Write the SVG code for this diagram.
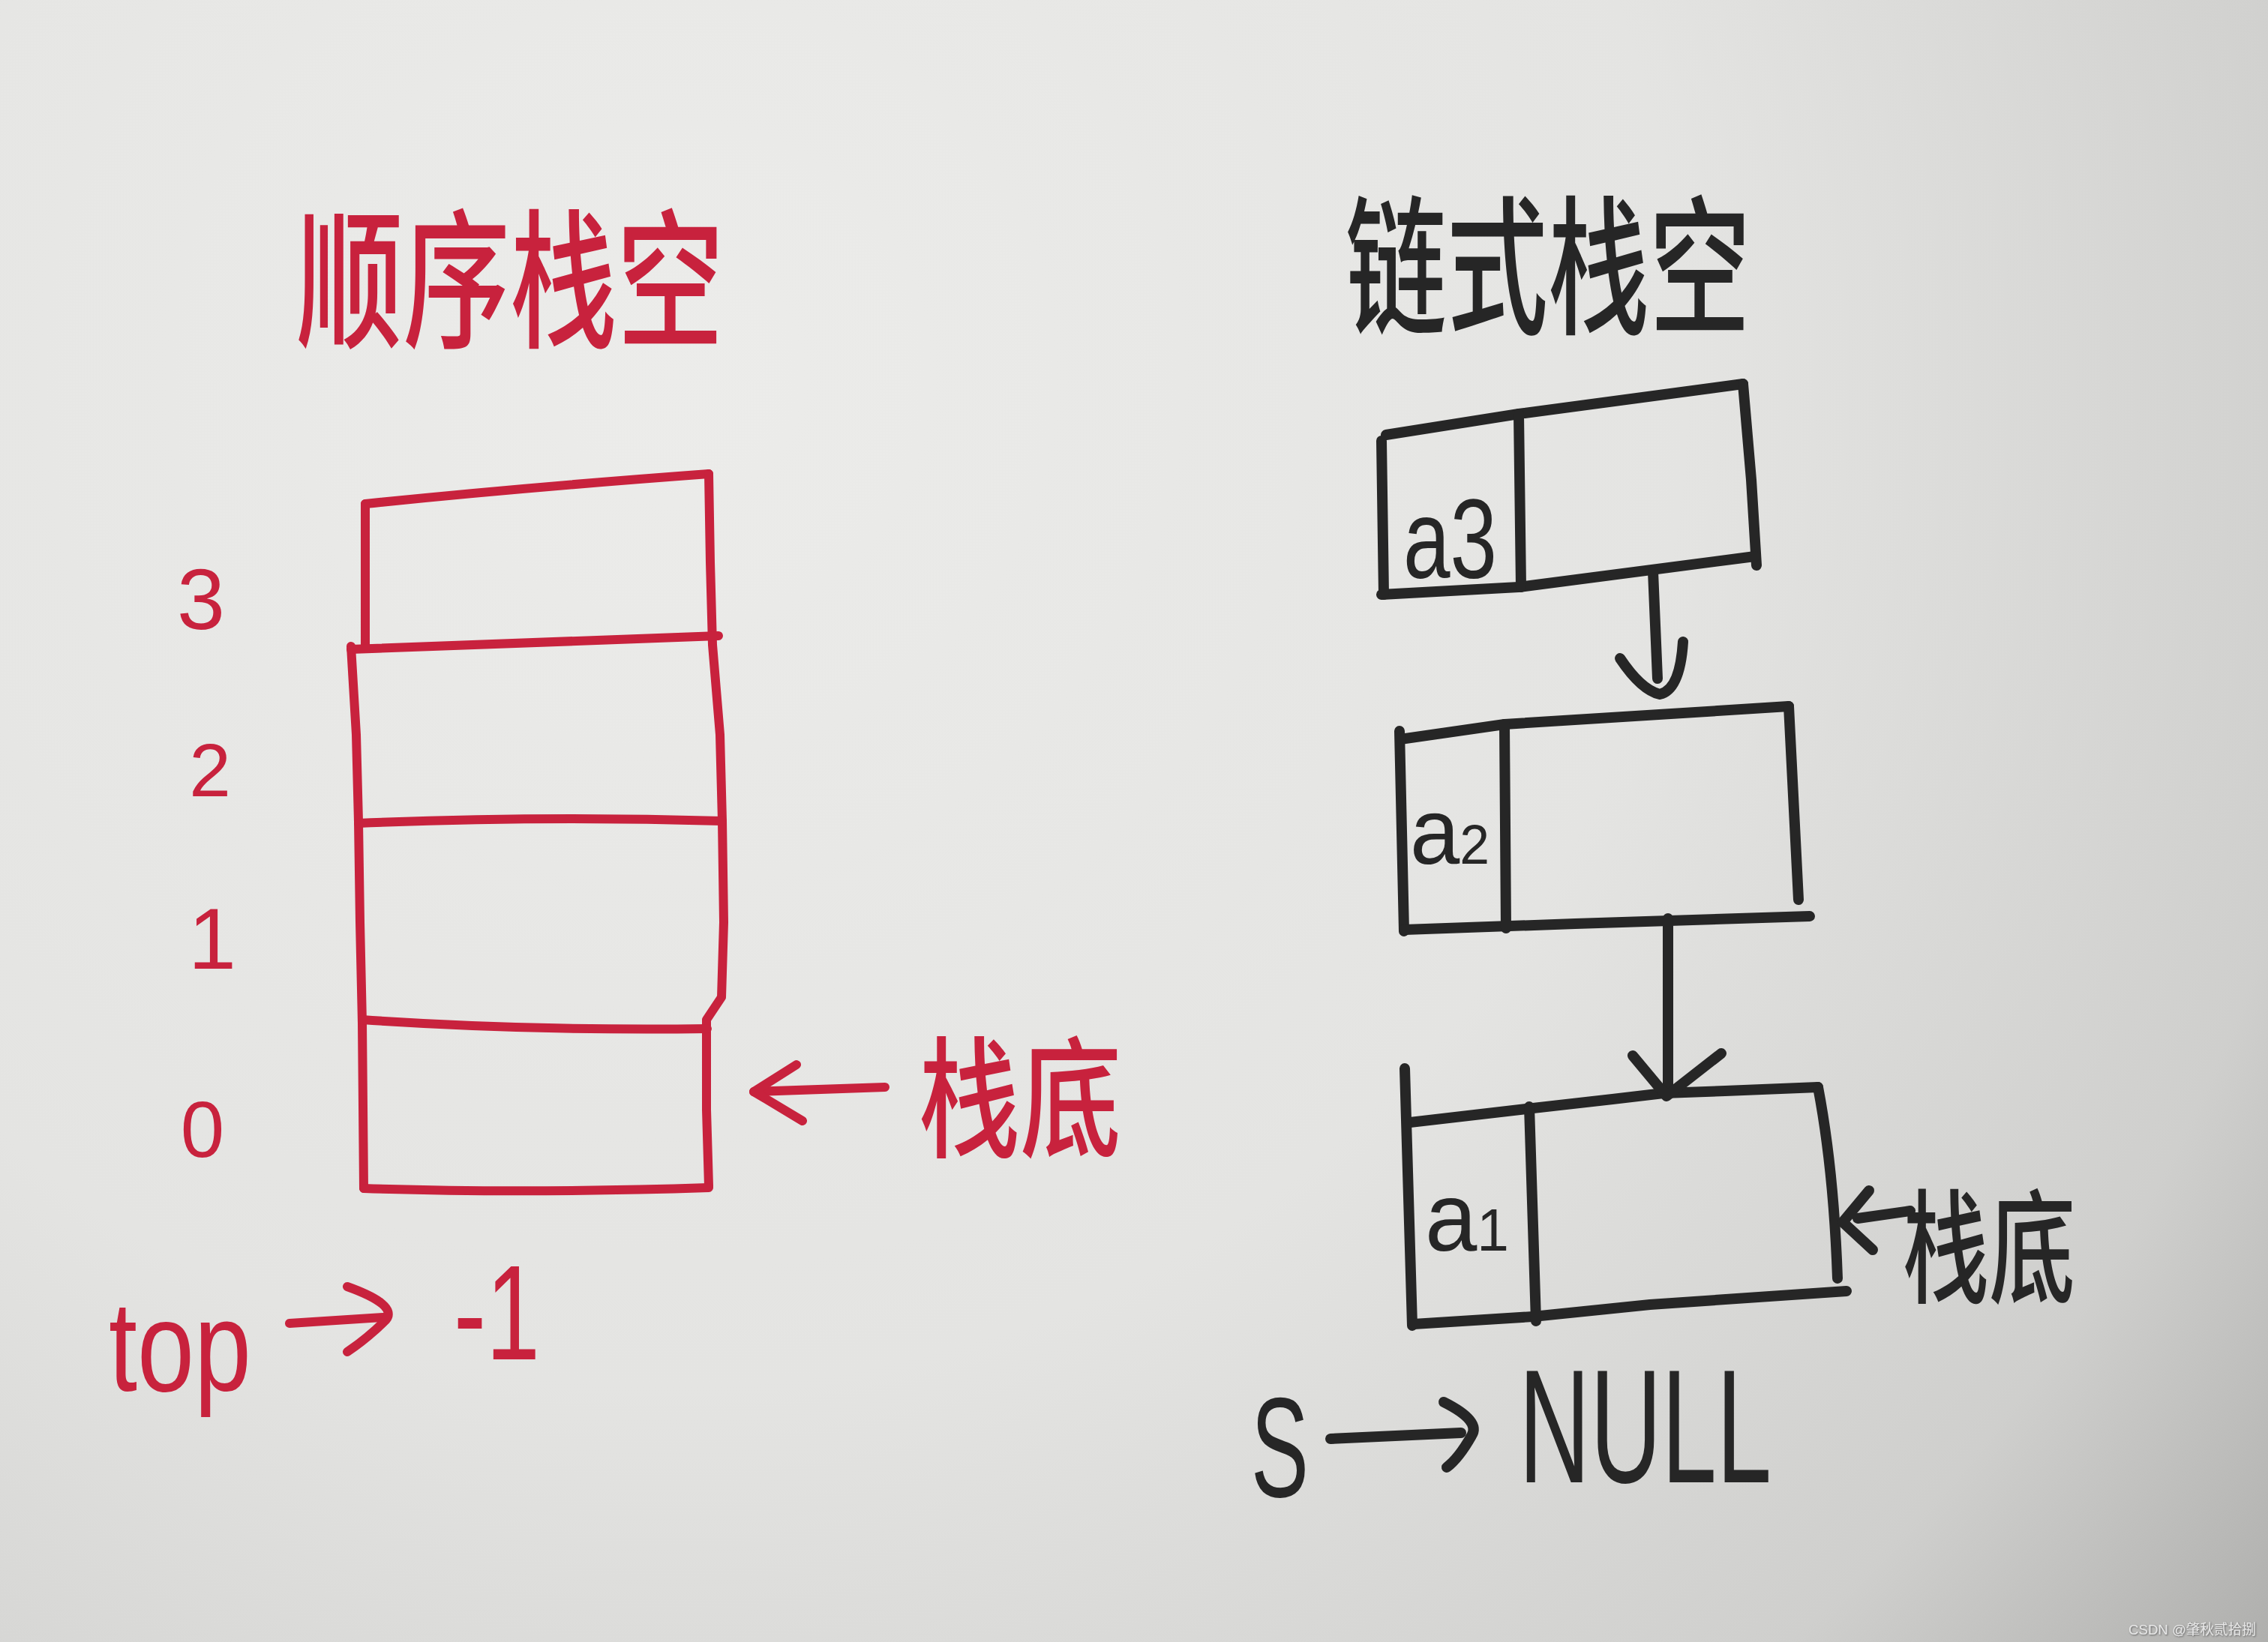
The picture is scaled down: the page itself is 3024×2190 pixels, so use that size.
<svg xmlns="http://www.w3.org/2000/svg" width="3024" height="2190" viewBox="0 0 3024 2190">
<defs>
<radialGradient id="paper" cx="900" cy="500" r="3000" gradientUnits="userSpaceOnUse">
<stop offset="0" stop-color="#ececea"/>
<stop offset="0.45" stop-color="#e4e4e2"/>
<stop offset="0.75" stop-color="#cfcfcd"/>
<stop offset="1" stop-color="#9c9c9a"/>
</radialGradient>
<filter id="wmshadow" x="-10%" y="-50%" width="120%" height="200%">
<feDropShadow dx="1" dy="1" stdDeviation="0.8" flood-color="#555" flood-opacity="0.9"/>
</filter>
<style>
.red{fill:none;stroke:#c8223d;stroke-width:12;stroke-linecap:round;stroke-linejoin:round}
.blk{fill:none;stroke:#262626;stroke-width:14;stroke-linecap:round;stroke-linejoin:round}
.tr{fill:#c8223d;font-family:"Liberation Sans","Noto Sans CJK SC",sans-serif}
.tb{fill:#262626;font-family:"Liberation Sans","Noto Sans CJK SC",sans-serif}
.cj{font-family:"Noto Sans CJK SC","Noto Sans",sans-serif;font-weight:500}
.wm{fill:#e6e6e6;font-family:"Liberation Sans","Noto Sans CJK SC",sans-serif;font-size:19px}
</style>
</defs>
<rect x="0" y="0" width="3024" height="2190" fill="url(#paper)"/>

<!-- Left: sequential stack -->
<g id="title-seq">
<text class="tr cj" x="395" y="448" font-size="200" textLength="570" lengthAdjust="spacingAndGlyphs">顺序栈空</text>
</g>
<g id="seq-stack">
<path class="red" d="M487 672 Q700 650 945 632"/>
<path class="red" d="M487 672 L487 862"/>
<path class="red" d="M945 632 L947 750 L950 860 L960 980 L963 1095 L965 1230 L962 1330 L942 1360 L942 1480 L945 1582"/>
<path class="red" d="M468 862 L475 980 L478 1096 L480 1230 L483 1365 L485 1585"/>
<path class="red" d="M468 866 Q700 858 958 848"/>
<path class="red" d="M478 1098 Q720 1088 963 1095"/>
<path class="red" d="M483 1360 Q700 1375 943 1372"/>
<path class="red" d="M485 1585 Q700 1592 945 1584"/>
</g>
<g id="seq-index">
<text class="tr" x="268" y="839" font-size="115" text-anchor="middle">3</text>
<text class="tr" x="280" y="1062" font-size="100" text-anchor="middle">2</text>
<text class="tr" x="283" y="1292" font-size="115" text-anchor="middle">1</text>
<text class="tr" x="270" y="1543" font-size="105" text-anchor="middle">0</text>
</g>
<g id="seq-bottom-label">
<text class="tr cj" x="1225" y="1530" font-size="175" textLength="270" lengthAdjust="spacingAndGlyphs">栈底</text>
</g>
<g id="seq-top">
<text class="tr" x="145" y="1855" font-size="170" textLength="190" lengthAdjust="spacingAndGlyphs">top</text>
<text class="tr" x="605" y="1813" font-size="180" textLength="115" lengthAdjust="spacingAndGlyphs">-1</text>
</g>

<!-- Right: linked stack -->
<g id="title-link">
<text class="tb cj" x="1794" y="430" font-size="200" textLength="540" lengthAdjust="spacingAndGlyphs">链式栈空</text>
</g>
<g id="node-a3">
<path class="blk" d="M1848 580 L2025 552 L2324 512"/>
<path class="blk" d="M2324 512 L2335 640 L2342 754"/>
<path class="blk" d="M1842 793 L2025 783 L2340 742"/>
<path class="blk" d="M1842 588 L1845 793"/>
<path class="blk" d="M2025 552 L2028 783"/>
<text class="tb" x="1871" y="771" font-size="150" textLength="125" lengthAdjust="spacingAndGlyphs">a3</text>
</g>
<g id="node-a2">
<path class="blk" d="M1867 986 L2006 966 L2385 942"/>
<path class="blk" d="M1866 975 L1872 1242"/>
<path class="blk" d="M2385 942 L2398 1200"/>
<path class="blk" d="M1872 1240 L2100 1232 L2413 1222"/>
<path class="blk" d="M2006 966 L2008 1238"/>
<text class="tb" x="1880" y="1152" font-size="125" textLength="106" lengthAdjust="spacingAndGlyphs">a<tspan font-size="75">2</tspan></text>
</g>
<g id="node-a1">
<path class="blk" d="M1880 1497 L2044 1478 L2150 1466 L2218 1458 L2300 1455 L2424 1450"/>
<path class="blk" d="M1873 1425 L1883 1768"/>
<path class="blk" d="M2424 1450 Q2445 1560 2450 1705"/>
<path class="blk" d="M1885 1766 L2044 1756 L2200 1740 L2462 1722"/>
<path class="blk" d="M2039 1476 L2048 1762"/>
<text class="tb" x="1900" y="1668" font-size="130" textLength="112" lengthAdjust="spacingAndGlyphs">a<tspan font-size="80">1</tspan></text>
</g>
<g id="link-bottom-label">
<text class="tb cj" x="2537" y="1725" font-size="165" textLength="230" lengthAdjust="spacingAndGlyphs">栈底</text>
</g>
<g id="link-null">
<text class="tb" x="1668" y="1996" font-size="190" textLength="77" lengthAdjust="spacingAndGlyphs">S</text>
<text class="tb" x="2025" y="1977" font-size="215" textLength="337" lengthAdjust="spacingAndGlyphs">NULL</text>
</g>

<!-- Connectors -->
<g id="connectors">
<path class="blk" d="M2204 762 L2210 905"/>
<path class="blk" d="M2160 878 Q2188 920 2213 926 Q2240 920 2244 856"/>
<path class="blk" d="M2224 1225 L2224 1456"/>
<path class="blk" d="M2177 1408 L2222 1462 L2295 1405"/>
<path class="blk" d="M2547 1615 L2477 1625"/>
<path class="blk" d="M2492 1588 L2457 1630 L2497 1667"/>
<path class="blk" d="M1774 1919 L1948 1911"/>
<path class="blk" d="M1925 1870 Q1975 1895 1962 1915 Q1945 1945 1929 1957"/>
<path class="red" d="M1180 1450 L1005 1456"/>
<path class="red" d="M1062 1420 L1005 1456 L1070 1495"/>
<path class="red" d="M386 1765 L511 1757"/>
<path class="red" d="M463 1716 Q530 1740 515 1760 Q490 1785 463 1803"/>
</g>

<text class="wm" x="2838" y="2180" textLength="170" lengthAdjust="spacingAndGlyphs" filter="url(#wmshadow)">CSDN @肇秋贰拾捌</text>
</svg>
